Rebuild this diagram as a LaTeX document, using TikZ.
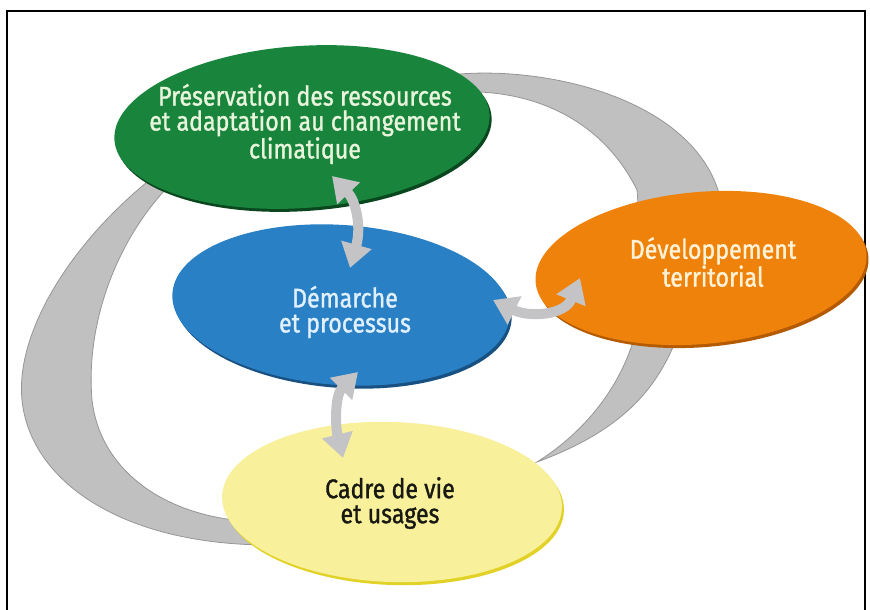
\documentclass[tikz,border=0pt]{standalone}
\usepackage{fontspec}
\setmainfont{Fira Sans}[FakeStretch=0.86,FakeBold=1.2]
\usetikzlibrary{shapes.geometric,arrows.meta,shadows}
\definecolor{cgreen}{RGB}{24,132,60}
\definecolor{cgreenS}{RGB}{10,70,30}
\definecolor{cblue}{RGB}{42,128,196}
\definecolor{cblueS}{RGB}{25,80,130}
\definecolor{corange}{RGB}{238,130,10}
\definecolor{corangeS}{RGB}{180,90,0}
\definecolor{cyellow}{RGB}{249,240,155}
\definecolor{cyellowS}{RGB}{226,210,40}
\definecolor{cband}{RGB}{192,192,192}
\definecolor{cbandE}{RGB}{150,150,150}
\definecolor{carrow}{RGB}{196,196,198}
\definecolor{tgreen}{RGB}{232,245,220}
\definecolor{tblue}{RGB}{225,240,255}
\definecolor{torange}{RGB}{255,242,214}
\definecolor{tyellow}{RGB}{25,25,20}
\begin{document}
\begin{tikzpicture}[x=1pt,y=-1pt,
  band/.style={fill=cband,draw=cbandE,line width=0.8pt},
  blob/.style={ellipse,inner sep=0pt},
  lbl/.style={align=center,font=\fontsize{27}{25}\selectfont},
  arr/.style={draw=carrow,line width=10pt,
    {Triangle[width=30pt,length=24pt]}-{Triangle[width=30pt,length=24pt]}}]
\useasboundingbox (0,0) rectangle (870,610);
\fill[white] (0,0) rectangle (870,610);
\draw[line width=2pt] (7,620) -- (7,11) -- (865,11) -- (865,620);

% grey ring (three visible pieces)
\filldraw[band] (165,168) .. controls (75,235) and (15,330) .. (22,400)
  .. controls (30,480) and (120,545) .. (270,545) -- (262,522)
  .. controls (165,520) and (100,470) .. (92,400)
  .. controls (85,320) and (120,225) .. (188,168) -- cycle;
\filldraw[band] (430,78) .. controls (520,60) and (685,90) .. (718,190)
  -- (722,230) -- (640,230) -- (637,190)
  .. controls (605,125) and (540,88) .. (455,92) -- cycle;
\filldraw[band] (680,320) -- (673,347) .. controls (650,400) and (610,435) .. (537,462)
  .. controls (580,435) and (615,395) .. (632,345) -- (630,320) -- cycle;

% ellipses
\node[blob,fill=cgreen,minimum width=376pt,minimum height=162pt,rotate=4,
  drop shadow={shadow xshift=2pt,shadow yshift=-3pt,opacity=1,fill=cgreenS}] (green) at (302,127) {};
\node[blob,fill=cblue,minimum width=338pt,minimum height=160pt,rotate=-4,
  drop shadow={shadow xshift=2pt,shadow yshift=-3pt,opacity=1,fill=cblueS}] (blue) at (341,305) {};
\node[blob,fill=corange,minimum width=332pt,minimum height=152pt,rotate=5,
  drop shadow={shadow xshift=2pt,shadow yshift=-3pt,opacity=1,fill=corangeS}] (orange) at (701,268) {};
\node[blob,fill=cyellow,minimum width=340pt,minimum height=160pt,rotate=-2,
  drop shadow={shadow xshift=2pt,shadow yshift=-3pt,opacity=1,fill=cyellowS}] (yellow) at (392,502) {};

% double arrows
\coordinate (gb1) at (332,176);
\coordinate (gb2) at (350,268);
\coordinate (by1) at (358,372);
\coordinate (by2) at (343,458);
\coordinate (bo1) at (493,300);
\coordinate (bo2) at (580,278);
\draw[arr] (gb1) .. controls (355,200) and (362,225) .. (gb2);
\draw[arr] (by1) .. controls (335,395) and (335,425) .. (by2);
\draw[arr] (bo1) .. controls (530,318) and (565,315) .. (bo2);

% labels
\node[lbl,text=tgreen] (tg) at (305,124) {Préservation des ressources\\et adaptation au changement\\climatique};
\node[lbl,text=tblue] (tb) at (345,312) {Démarche\\et processus};
\node[lbl,text=torange] (to) at (713,262) {Développement\\territorial};
\node[lbl,text=tyellow] (ty) at (390,503) {Cadre de vie\\et usages};
\end{tikzpicture}
\end{document}
